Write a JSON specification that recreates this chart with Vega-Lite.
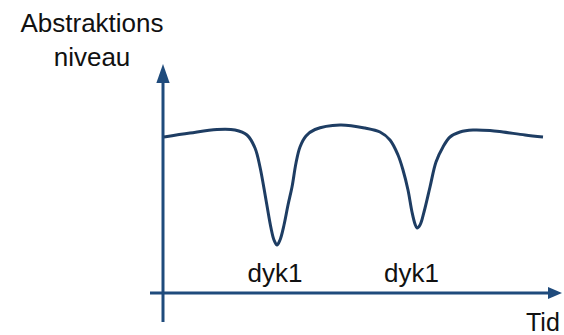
{
  "$schema": "https://vega.github.io/schema/vega-lite/v6.json",
  "width": 564,
  "height": 335,
  "padding": 0,
  "autosize": {"type": "none"},
  "background": "white",
  "config": {"view": {"stroke": null}},
  "datasets": {
    "curve": [
      {"t": 0.1, "L": 15.6}, {"t": 2.7, "L": 16.0}, {"t": 5.4, "L": 16.35}, {"t": 7.2, "L": 16.3},
      {"t": 8.4, "L": 15.8}, {"t": 9.2, "L": 14.5}, {"t": 9.7, "L": 12.6}, {"t": 10.3, "L": 9.3},
      {"t": 10.8, "L": 6.5}, {"t": 11.1, "L": 5.3}, {"t": 11.4, "L": 4.8}, {"t": 11.7, "L": 5.3},
      {"t": 12.1, "L": 6.8}, {"t": 12.5, "L": 8.8}, {"t": 12.9, "L": 10.6}, {"t": 13.3, "L": 13.0},
      {"t": 13.7, "L": 14.6}, {"t": 14.3, "L": 15.7}, {"t": 15.2, "L": 16.35}, {"t": 17.7, "L": 16.8},
      {"t": 20.2, "L": 16.5}, {"t": 21.7, "L": 16.1}, {"t": 22.7, "L": 15.3}, {"t": 23.5, "L": 13.8},
      {"t": 24.0, "L": 12.3}, {"t": 24.5, "L": 10.3}, {"t": 24.9, "L": 8.1}, {"t": 25.2, "L": 6.9},
      {"t": 25.4, "L": 6.5}, {"t": 25.7, "L": 6.8}, {"t": 26.1, "L": 8.1}, {"t": 26.7, "L": 10.6},
      {"t": 27.3, "L": 13.1}, {"t": 28.0, "L": 14.6}, {"t": 28.7, "L": 15.6}, {"t": 29.7, "L": 16.1},
      {"t": 31.0, "L": 16.3}, {"t": 32.7, "L": 16.25}, {"t": 34.0, "L": 16.1}, {"t": 36.2, "L": 15.8},
      {"t": 38.0, "L": 15.6}
    ],
    "axes": [
      {"t": 0, "t2": 0, "L": -2.9, "L2": 21.5},
      {"t": -1.3, "t2": 38.6, "L": 0, "L2": 0}
    ],
    "arrows": [
      {"t": 0, "L": 21.95, "dir": "up"},
      {"t": 39.2, "L": 0, "dir": "right"}
    ],
    "centered": [
      {"t": 11.2, "L": 1.1, "label": "dyk1"},
      {"t": 24.85, "L": 1.1, "label": "dyk1"},
      {"t": -7.1, "L": 26.1, "label": "Abstraktions"},
      {"t": -7.1, "L": 22.7, "label": "niveau"}
    ],
    "left": [
      {"t": 36.3, "L": -3.75, "label": "Tid"}
    ]
  },
  "layer": [
    {
      "data": {"name": "axes"},
      "mark": {"type": "rule", "color": "#1f4b7c", "strokeWidth": 3},
      "encoding": {
        "x": {"field": "t", "type": "quantitative", "scale": {"domain": [-16.3, 40.1], "nice": false, "zero": false}, "axis": null},
        "x2": {"field": "t2"},
        "y": {"field": "L", "type": "quantitative", "scale": {"domain": [-4.2, 29.3], "nice": false, "zero": false}, "axis": null},
        "y2": {"field": "L2"}
      }
    },
    {
      "data": {"name": "arrows"},
      "mark": {"type": "point", "filled": true, "color": "#1f4b7c", "opacity": 1, "size": 361, "strokeWidth": 0},
      "encoding": {
        "x": {"field": "t", "type": "quantitative", "axis": null},
        "y": {"field": "L", "type": "quantitative", "axis": null},
        "shape": {"field": "dir", "type": "nominal", "legend": null,
          "scale": {"domain": ["up", "right"], "range": ["M0,-1L0.7,1L-0.7,1Z", "M0.737,0L-0.737,-0.63L-0.737,0.63Z"]}}
      }
    },
    {
      "data": {"name": "curve"},
      "mark": {"type": "line", "color": "#1e3d63", "strokeWidth": 3, "interpolate": "catmull-rom"},
      "encoding": {
        "x": {"field": "t", "type": "quantitative", "axis": null},
        "y": {"field": "L", "type": "quantitative", "axis": null}
      }
    },
    {
      "data": {"name": "centered"},
      "mark": {"type": "text", "align": "center", "baseline": "alphabetic", "font": "Liberation Sans", "fontSize": 26, "color": "#111111"},
      "encoding": {
        "x": {"field": "t", "type": "quantitative", "axis": null},
        "y": {"field": "L", "type": "quantitative", "axis": null},
        "text": {"field": "label"}
      }
    },
    {
      "data": {"name": "left"},
      "mark": {"type": "text", "align": "left", "baseline": "alphabetic", "font": "Liberation Sans", "fontSize": 25, "color": "#111111"},
      "encoding": {
        "x": {"field": "t", "type": "quantitative", "axis": null},
        "y": {"field": "L", "type": "quantitative", "axis": null},
        "text": {"field": "label"}
      }
    }
  ]
}
